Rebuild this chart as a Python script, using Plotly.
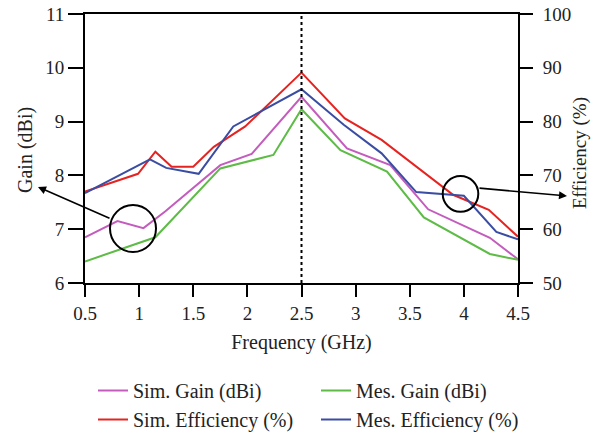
import plotly.graph_objects as go

# ---- data ----
sim_gain_freq = [0.5, 0.8, 1.04, 1.24, 1.75, 2.04, 2.5, 2.92, 3.32, 3.67, 4.24, 4.5]
sim_gain = [6.85, 7.15, 7.02, 7.33, 8.19, 8.40, 9.46, 8.50, 8.19, 7.37, 6.84, 6.44]

mes_gain_freq = [0.5, 1.15, 1.75, 2.24, 2.5, 2.86, 3.29, 3.63, 4.24, 4.5]
mes_gain = [6.40, 6.85, 8.13, 8.38, 9.23, 8.47, 8.07, 7.22, 6.54, 6.43]

sim_eff_freq = [0.5, 0.99, 1.15, 1.30, 1.50, 1.69, 1.98, 2.5, 2.90, 3.24, 3.90, 4.23, 4.5]
sim_eff = [67.0, 70.3, 74.4, 71.6, 71.6, 75.3, 79.1, 89.1, 80.6, 76.6, 66.4, 63.6, 58.6]

mes_eff_freq = [0.5, 1.10, 1.25, 1.55, 1.87, 2.5, 2.89, 3.24, 3.56, 4.0, 4.30, 4.5]
mes_eff = [66.7, 73.0, 71.4, 70.3, 79.1, 86.0, 79.4, 74.1, 66.9, 66.2, 59.5, 58.1]

x_ticks = [0.5, 1, 1.5, 2, 2.5, 3, 3.5, 4, 4.5]
x_tick_text = ["0.5", "1", "1.5", "2", "2.5", "3", "3.5", "4", "4.5"]

FONT = "Liberation Serif"
C_SG = "#c45cbd"
C_MG = "#5dbb46"
C_SE = "#e52421"
C_ME = "#3a4da3"

fig = go.Figure()
fig.add_trace(go.Scatter(x=sim_gain_freq, y=sim_gain, mode="lines", name="Sim. Gain (dBi)",
                         line=dict(color=C_SG, width=2), legend="legend"))
fig.add_trace(go.Scatter(x=sim_eff_freq, y=sim_eff, mode="lines", name="Sim. Efficiency (%)",
                         line=dict(color=C_SE, width=2), yaxis="y2", legend="legend"))
fig.add_trace(go.Scatter(x=mes_gain_freq, y=mes_gain, mode="lines", name="Mes. Gain (dBi)",
                         line=dict(color=C_MG, width=2), legend="legend2"))
fig.add_trace(go.Scatter(x=mes_eff_freq, y=mes_eff, mode="lines", name="Mes. Efficiency (%)",
                         line=dict(color=C_ME, width=2), yaxis="y2", legend="legend2"))

L, R, T, B = 85, 75, 14, 153
W, H = 593, 436
pw, ph = W - L - R, H - T - B


def px2paper(px, py):
    return (px - L) / pw, (H - B - py) / ph


leg_common = dict(xref="container", yref="container", xanchor="left", yanchor="top",
                  font=dict(size=20), bgcolor="rgba(0,0,0,0)", borderwidth=0,
                  tracegroupgap=0)

fig.update_layout(
    width=W, height=H,
    margin=dict(l=L, r=R, t=T, b=B, autoexpand=False),
    paper_bgcolor="white", plot_bgcolor="white",
    font=dict(family=FONT, size=19, color="#222"),
    xaxis=dict(range=[0.5, 4.5], tickvals=x_ticks, ticktext=x_tick_text,
               showline=True, linecolor="black", linewidth=2, mirror=True,
               ticks="outside", ticklen=12, tickwidth=2, tickcolor="black",
               showgrid=False, zeroline=False,
               title=dict(text="Frequency (GHz)", font=dict(size=20), standoff=12)),
    yaxis=dict(range=[6, 11], dtick=1, showline=True, linecolor="black", linewidth=2,
               ticks="outside", ticklen=15, tickwidth=2, tickcolor="black",
               showgrid=False, zeroline=False),
    yaxis2=dict(range=[50, 100], dtick=10, overlaying="y", side="right",
                showline=True, linecolor="black", linewidth=2,
                ticks="outside", ticklen=13, tickwidth=2, tickcolor="black",
                ticklabelstandoff=6,
                showgrid=False, zeroline=False),
    legend=dict(x=93 / W, y=1 - 371 / H, **leg_common),
    legend2=dict(x=316 / W, y=1 - 371 / H, **leg_common),
    showlegend=True,
)

# axis titles for the two y axes
fig.add_annotation(text="Gain (dBi)", xref="paper", yref="paper",
                   x=px2paper(25, 0)[0], y=px2paper(0, 150)[1], showarrow=False,
                   textangle=-90, font=dict(size=20), xanchor="center", yanchor="middle")
fig.add_annotation(text="Efficiency (%)", xref="paper", yref="paper",
                   x=px2paper(580, 0)[0], y=px2paper(0, 153)[1], showarrow=False,
                   textangle=-90, font=dict(size=19), xanchor="center", yanchor="middle")

# dotted marker line at 2.5 GHz
fig.add_shape(type="line", xref="x", yref="paper", x0=2.5, x1=2.5, y0=0, y1=1,
              line=dict(color="black", width=2, dash="dot"))

# circles
for (cx0, cy0, cx1, cy1) in [(110, 205, 156, 252), (442.7, 176, 478.3, 211.7)]:
    a0 = px2paper(cx0, cy1)
    a1 = px2paper(cx1, cy0)
    fig.add_shape(type="circle", xref="paper", yref="paper",
                  x0=a0[0], y0=a0[1], x1=a1[0], y1=a1[1],
                  line=dict(color="black", width=2))

# arrows
for (hx, hy, tx, ty) in [(38, 187, 111, 219), (567, 196, 478, 188)]:
    hxp, hyp = px2paper(hx, hy)
    fig.add_annotation(x=hxp, y=hyp, xref="paper", yref="paper", text="",
                       showarrow=True, arrowhead=2, arrowsize=1, arrowwidth=1.6,
                       arrowcolor="black", ax=tx - hx, ay=ty - hy)

fig.write_html("out.html")
